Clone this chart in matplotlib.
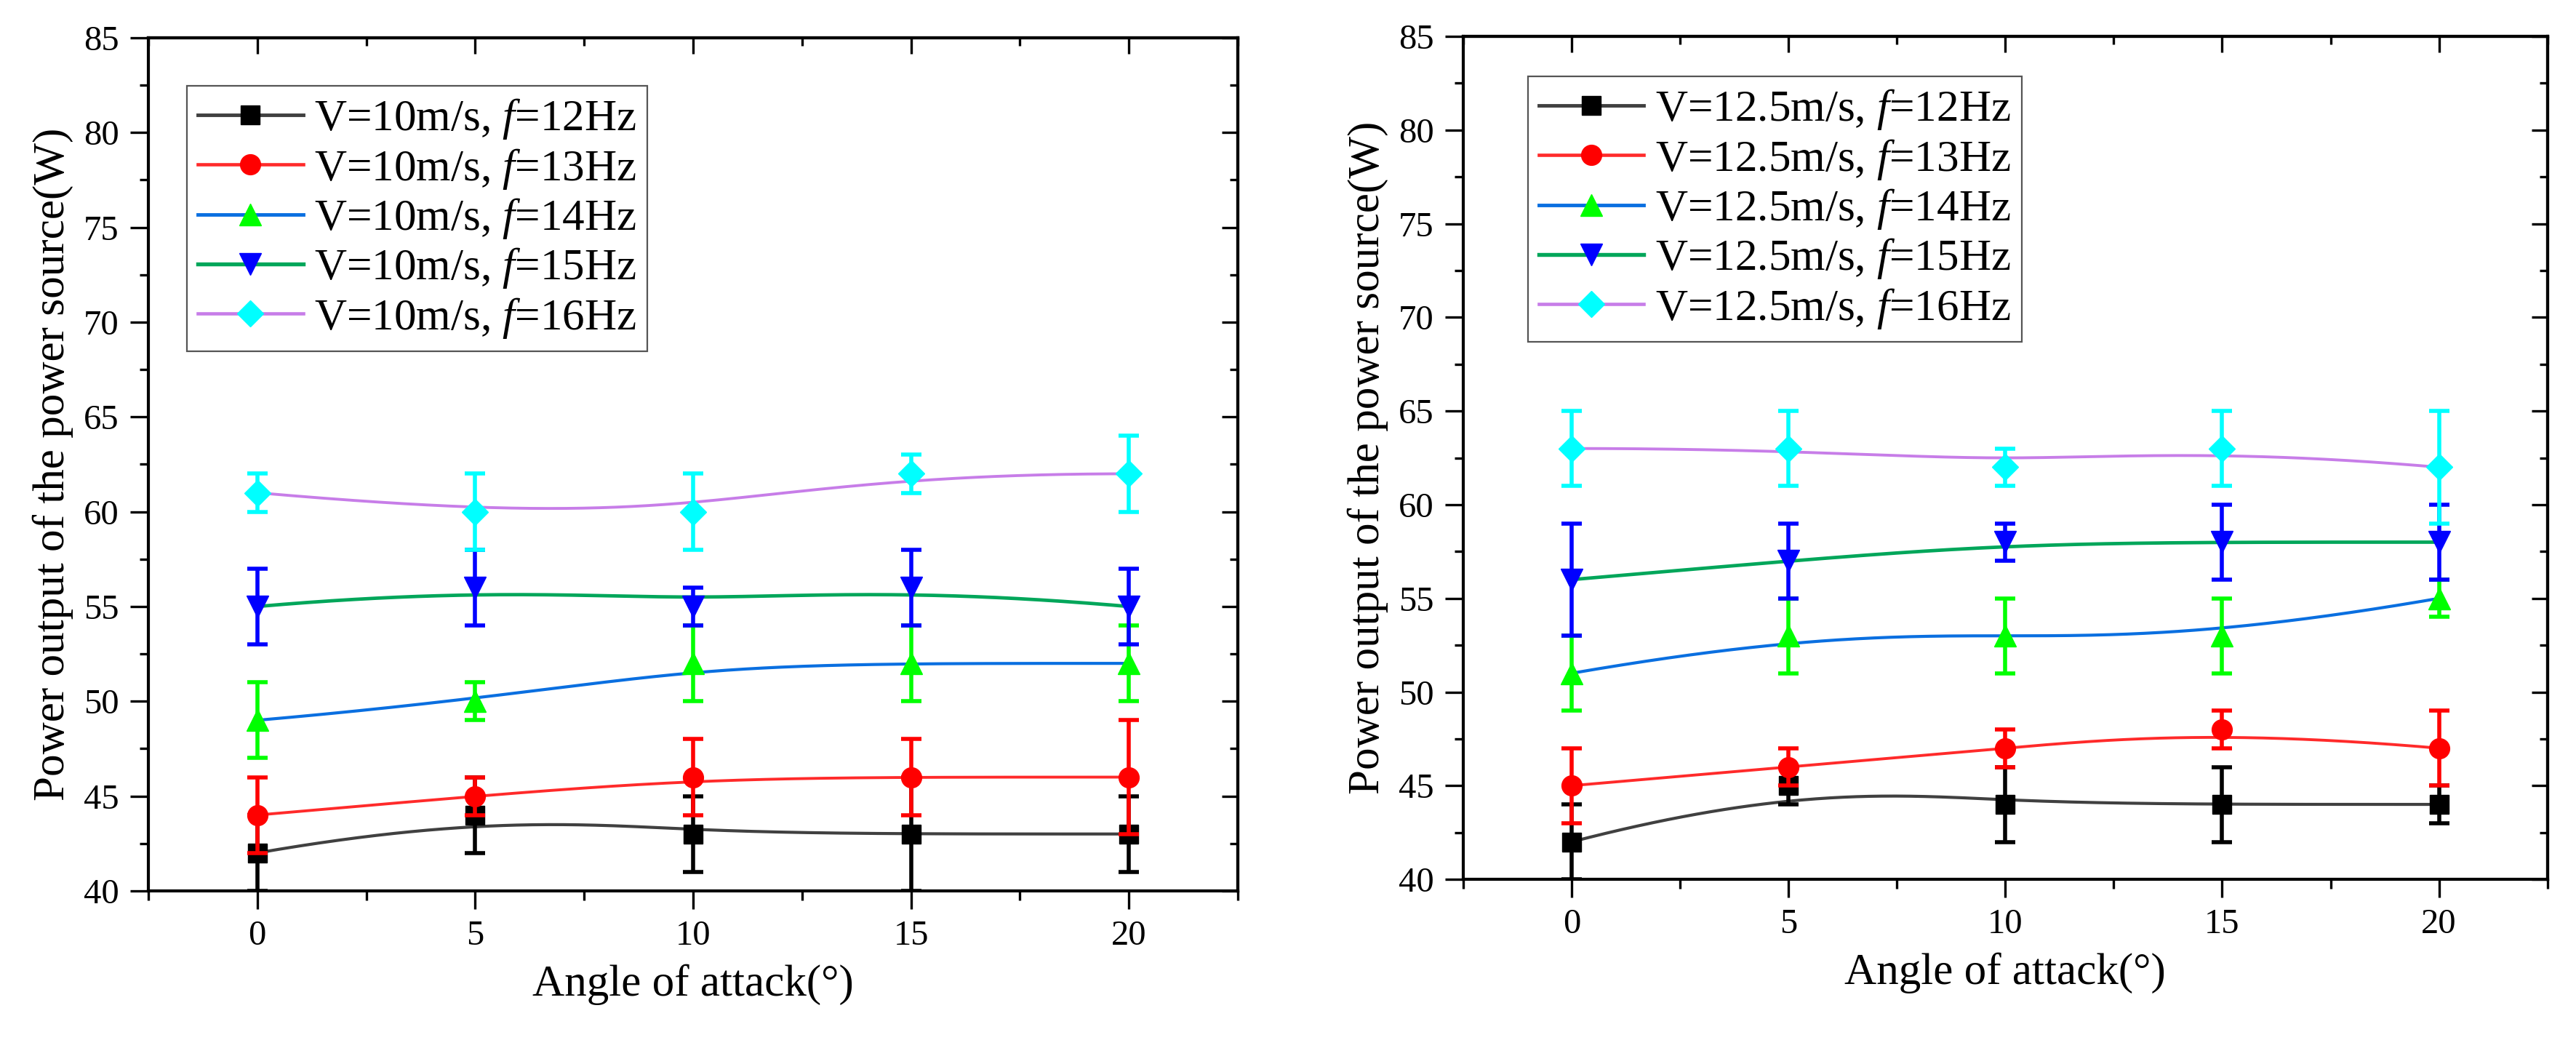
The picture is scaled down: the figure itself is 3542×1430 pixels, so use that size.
import numpy as np
import matplotlib.pyplot as plt
from matplotlib.lines import Line2D
from matplotlib.ticker import MultipleLocator

angle = [0, 5, 10, 15, 20]
freqs = [12, 13, 14, 15, 16]

# V = 10 m/s  (power in W, +/- error)
p10 = [
    [42, 44, 43, 43, 43],
    [44, 45, 46, 46, 46],
    [49, 50, 52, 52, 52],
    [55, 56, 55, 56, 55],
    [61, 60, 60, 62, 62],
]
e10 = [
    [2, 2, 2, 3, 2],
    [2, 1, 2, 2, 3],
    [2, 1, 2, 2, 2],
    [2, 2, 1, 2, 2],
    [1, 2, 2, 1, 2],
]

# V = 12.5 m/s
p125 = [
    [42, 45, 44, 44, 44],
    [45, 46, 47, 48, 47],
    [51, 53, 53, 53, 55],
    [56, 57, 58, 58, 58],
    [63, 63, 62, 63, 62],
]
e125 = [
    [2, 1, 2, 2, 1],
    [2, 1, 1, 1, 2],
    [2, 2, 2, 2, 1],
    [3, 2, 1, 2, 2],
    [2, 2, 1, 2, 3],
]

line_colors = ["#404040", "#ff2a2a", "#0a6fe0", "#00a65a", "#c77de8"]
marker_colors = ["#000000", "#ff0000", "#00ff00", "#0000ff", "#00ffff"]
markers = ["s", "o", "^", "v", "D"]
marker_sizes = [19, 20, 21, 21, 18]
line_widths = [3.0, 2.8, 3.0, 3.4, 2.8]

plt.rcParams.update(
    {
        "font.family": "Liberation Serif",
        "mathtext.fontset": "custom",
        "mathtext.rm": "Liberation Serif",
        "mathtext.it": "Liberation Serif:italic",
        "axes.linewidth": 3.0,
    }
)


def bspline(xs, ys, n=300):
    # clamped cubic B-spline with the points as control points (like Origin's B-spline connect)
    xs = np.asarray(xs, float)
    ys = np.asarray(ys, float)
    k = 3
    m = len(xs)
    t = np.concatenate([np.zeros(k), np.linspace(0, 1, m - k + 1), np.ones(k)])
    u = np.linspace(0, 1, n)

    def N(i, d):
        if d == 0:
            b = ((t[i] <= u) & (u < t[i + 1])).astype(float)
            if t[i] < t[i + 1] and t[i + 1] == t[-1]:
                b[u == t[-1]] = 1.0
            return b
        out = np.zeros_like(u)
        if t[i + d] != t[i]:
            out += (u - t[i]) / (t[i + d] - t[i]) * N(i, d - 1)
        if t[i + d + 1] != t[i + 1]:
            out += (t[i + d + 1] - u) / (t[i + d + 1] - t[i + 1]) * N(i + 1, d - 1)
        return out

    B = np.array([N(i, k) for i in range(m)])
    return B.T @ xs, B.T @ ys


def draw_panel(ax, vals, errs, speed):
    handles = []
    for i in range(len(freqs)):
        sx, sy = bspline(angle, vals[i])
        ax.plot(sx, sy, color=line_colors[i], lw=line_widths[i], zorder=2)
        ax.errorbar(
            angle,
            vals[i],
            yerr=errs[i],
            fmt=markers[i],
            ms=marker_sizes[i],
            color=marker_colors[i],
            ecolor=marker_colors[i],
            elinewidth=4,
            capsize=10,
            capthick=4,
            zorder=3 + i,
        )
        handles.append(
            Line2D(
                [], [],
                color=line_colors[i], lw=line_widths[i] + 0.5,
                marker=markers[i], ms=marker_sizes[i],
                mfc=marker_colors[i], mec=marker_colors[i],
                label=f"V={speed}m/s, $f$={freqs[i]}Hz",
            )
        )

    ax.set_xlim(-2.5, 22.5)
    ax.set_ylim(40, 85)
    ax.xaxis.set_major_locator(MultipleLocator(5))
    ax.xaxis.set_minor_locator(MultipleLocator(2.5))
    ax.yaxis.set_major_locator(MultipleLocator(5))
    ax.yaxis.set_minor_locator(MultipleLocator(2.5))
    ax.tick_params(which="both", direction="out", width=2.4, labelsize=35, pad=11)
    ax.tick_params(which="major", length=18)
    ax.tick_params(which="minor", length=9)

    # Origin style: inward ticks on top and right
    top = ax.secondary_xaxis("top")
    top.xaxis.set_major_locator(MultipleLocator(5))
    top.xaxis.set_minor_locator(MultipleLocator(2.5))
    top.tick_params(which="both", direction="in", width=2.4, labeltop=False)
    top.tick_params(which="major", length=16)
    top.tick_params(which="minor", length=8)
    right = ax.secondary_yaxis("right")
    right.yaxis.set_major_locator(MultipleLocator(5))
    right.yaxis.set_minor_locator(MultipleLocator(2.5))
    right.tick_params(which="both", direction="in", width=2.4, labelright=False)
    right.tick_params(which="major", length=16)
    right.tick_params(which="minor", length=8)

    ax.set_xlabel("Angle of attack(°)", fontsize=44, labelpad=12)
    ax.set_ylabel("Power output of the power source(W)", fontsize=44, labelpad=10)
    return handles


fig = plt.figure(figsize=(35.42, 14.30), dpi=100)
ax1 = fig.add_axes([0.0576, 0.1434, 0.4229, 0.8203])
ax2 = fig.add_axes([0.5680, 0.1545, 0.4209, 0.8105])

h1 = draw_panel(ax1, p10, e10, "10")
h2 = draw_panel(ax2, p125, e125, "12.5")

for ax, h, anchor in [(ax1, h1, (0.0354, 0.9437)), (ax2, h2, (0.0597, 0.9526))]:
    leg = ax.legend(
        handles=h,
        loc="upper left",
        bbox_to_anchor=anchor,
        borderaxespad=0,
        fontsize=44,
        handlelength=2.36,
        handletextpad=0.25,
        labelspacing=0.12,
        borderpad=0.25,
        fancybox=False,
        framealpha=1,
    )
    leg.get_frame().set_edgecolor("#555555")
    leg.get_frame().set_linewidth(1.6)
    leg.set_zorder(20)

fig.savefig("out.png", dpi=100)
